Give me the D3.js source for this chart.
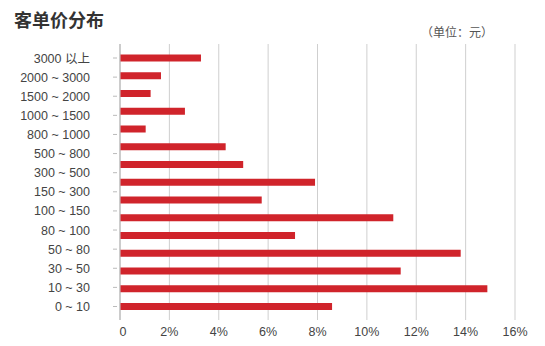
<!DOCTYPE html>
<html>
<head>
<meta charset="utf-8">
<script src="https://cdn.jsdelivr.net/npm/d3@7"></script>
<style>
  body { margin: 0; background: #fff; }
  text { font-family: "Liberation Sans", Arial, "Noto Sans CJK SC", sans-serif; }
</style>
</head>
<body>
<div id="chart"></div>
<script>

// labels on the axis (14) and bar values in % (15, as in the original)
var labels = ["3000 以上", "2000 ~ 3000", "1500 ~ 2000", "1000 ~ 1500", "800 ~ 1000",
              "500 ~ 800", "300 ~ 500", "150 ~ 300", "100 ~ 150", "80 ~ 100",
              "50 ~ 80", "30 ~ 50", "10 ~ 30", "0 ~ 10"];
var values = [3.28, 1.66, 1.24, 2.63, 1.04, 4.28, 4.99, 7.9, 5.74, 11.07,
              7.09, 13.8, 11.37, 14.88, 8.59];
var xTicks = [0, 2, 4, 6, 8, 10, 12, 14, 16];

var width = 545, height = 346;

var svg = d3.select("#chart").append("svg")
    .attr("width", width)
    .attr("height", height);

var x = d3.scaleLinear().domain([0, 16]).range([120, 515]);

// bars and labels each get their own spacing over the same span
var yBar = d3.scalePoint().domain(d3.range(values.length)).range([58, 306.5]);
var yLab = d3.scalePoint().domain(labels).range([58, 306.5]);

// title
svg.append("text")
    .attr("x", 14).attr("y", 27)
    .attr("font-size", 18).attr("font-weight", "bold")
    .attr("fill", "#333")
    .style("font-family", "'Noto Sans CJK SC', sans-serif")
    .text("客单价分布");

svg.append("text")
    .attr("x", 493).attr("y", 37)
    .attr("text-anchor", "end")
    .attr("font-size", 12)
    .attr("fill", "#555")
    .style("font-family", "'Noto Sans CJK SC', sans-serif")
    .text("（单位：元）");

// grid
svg.append("g")
    .selectAll("line")
    .data(xTicks.slice(1))
    .enter().append("line")
    .attr("x1", function(d) { return x(d); })
    .attr("x2", function(d) { return x(d); })
    .attr("y1", 44).attr("y2", 320)
    .attr("stroke", "#cfcfcf")
    .attr("stroke-width", 1);

// y axis line
svg.append("line")
    .attr("x1", x(0)).attr("x2", x(0))
    .attr("y1", 44).attr("y2", 320)
    .attr("stroke", "#aaa")
    .attr("stroke-width", 1.2);

// y ticks + labels
var yg = svg.append("g");
yg.selectAll("line")
    .data(labels)
    .enter().append("line")
    .attr("x1", 113).attr("x2", 117)
    .attr("y1", function(d) { return yLab(d); })
    .attr("y2", function(d) { return yLab(d); })
    .attr("stroke", "#bbb");

yg.selectAll("text")
    .data(labels)
    .enter().append("text")
    .attr("x", 90)
    .attr("y", function(d) { return yLab(d); })
    .attr("dy", "0.36em")
    .attr("text-anchor", "end")
    .attr("font-size", 12.5)
    .attr("fill", "#444")
    .text(function(d) { return d; });

// bars
svg.append("g")
    .selectAll("rect")
    .data(values)
    .enter().append("rect")
    .attr("x", x(0) + 0.5)
    .attr("y", function(d, i) { return yBar(i) - 3.5; })
    .attr("height", 7)
    .attr("width", function(d) { return x(d) - x(0) - 0.5; })
    .attr("fill", "#d0242b");

// x tick labels
svg.append("g")
    .selectAll("text")
    .data(xTicks)
    .enter().append("text")
    .attr("x", function(d) { return d === 0 ? x(d) + 3 : x(d); })
    .attr("y", 336)
    .attr("text-anchor", "middle")
    .attr("font-size", 12.5)
    .attr("fill", "#444")
    .text(function(d) { return d === 0 ? "0" : d + "%"; });

</script>
</body>
</html>
